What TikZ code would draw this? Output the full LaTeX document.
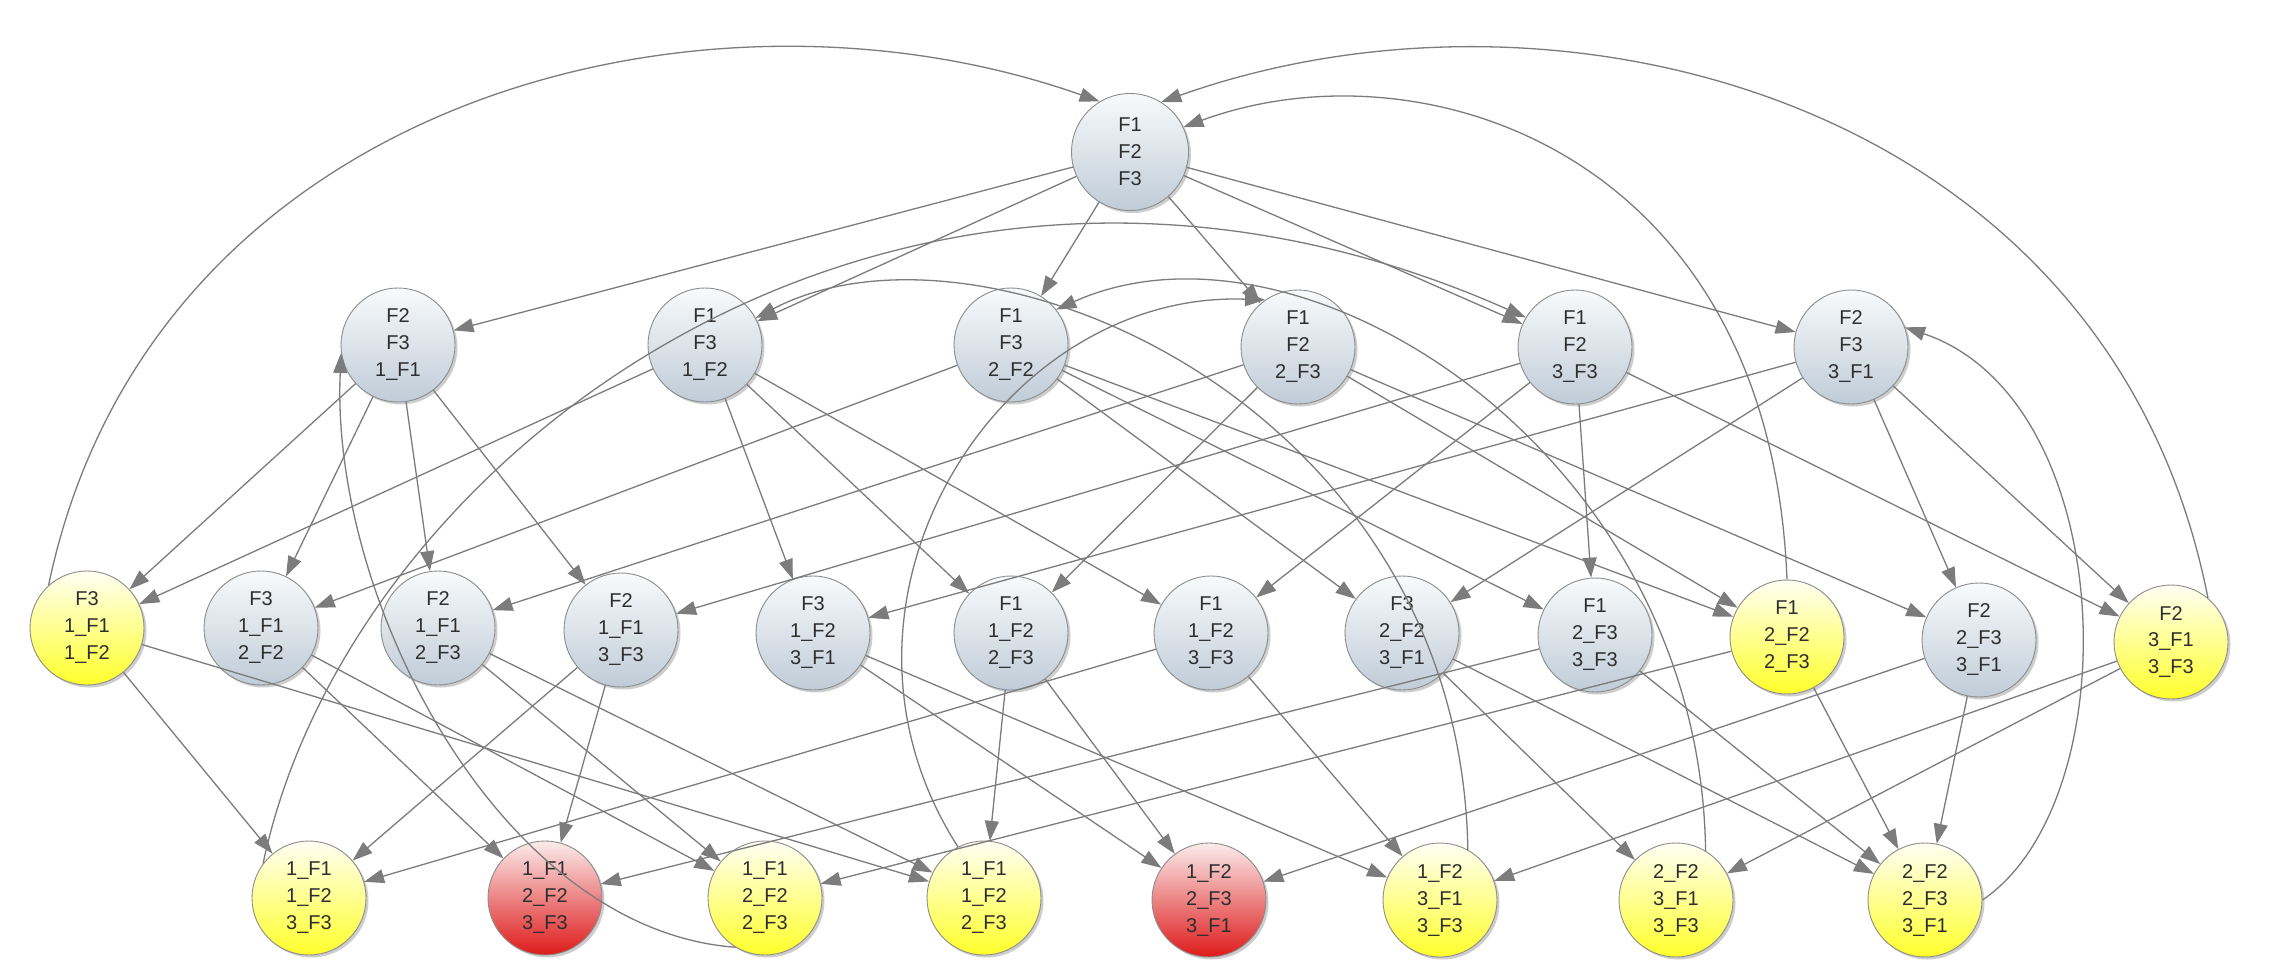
\documentclass[tikz,border=0pt]{standalone}
\usepackage{fontspec}
\setmainfont{Liberation Sans}
\usetikzlibrary{arrows.meta,shadows}
\definecolor{edgec}{HTML}{7C7C7C}
\definecolor{bluetop}{HTML}{F8FAFB}
\definecolor{bluebot}{HTML}{C0CCD8}
\definecolor{yeltop}{HTML}{FFFFF4}
\definecolor{yelbot}{HTML}{FFFF2A}
\definecolor{redtop}{HTML}{FBECEC}
\definecolor{redmid}{HTML}{EB7474}
\definecolor{redbot}{HTML}{DE1A1A}
\definecolor{txt}{HTML}{2E2E2E}
\begin{document}
\begin{tikzpicture}[x=1pt,y=-1pt,
  st/.style={circle, draw=black!45, line width=0.9pt, minimum size=114pt, inner sep=0pt,
    align=center, font=\fontsize{20}{27}\selectfont, text=txt,
    drop shadow={shadow xshift=2.5pt, shadow yshift=-2.5pt, opacity=0.28, fill=black!70}},
  bn/.style={st, top color=bluetop, bottom color=bluebot},
  yn/.style={st, top color=yeltop, bottom color=yelbot},
  rn/.style={st, top color=redtop, middle color=redmid, bottom color=redbot},
  ed/.style={draw=edgec, line width=1.3pt, -{Triangle[length=20pt,width=14pt]}},
]
\useasboundingbox[fill=white] (0,0) rectangle (2270,976);

% nodes
\node[bn, minimum size=117pt] (T) at (1130,152) {F1\\F2\\F3};

\node[bn] (A1) at (398,345) {F2\\F3\\1\_F1};
\node[bn] (A2) at (705,345) {F1\\F3\\1\_F2};
\node[bn] (A3) at (1011,345) {F1\\F3\\2\_F2};
\node[bn] (A4) at (1298,347) {F1\\F2\\2\_F3};
\node[bn] (A5) at (1575,347) {F1\\F2\\3\_F3};
\node[bn] (A6) at (1851,347) {F2\\F3\\3\_F1};

\node[yn] (B1) at (87,628) {F3\\1\_F1\\1\_F2};
\node[bn] (B2) at (261,628) {F3\\1\_F1\\2\_F2};
\node[bn] (B3) at (438,628) {F2\\1\_F1\\2\_F3};
\node[bn] (B4) at (621,630) {F2\\1\_F1\\3\_F3};
\node[bn] (B5) at (813,633) {F3\\1\_F2\\3\_F1};
\node[bn] (B6) at (1011,633) {F1\\1\_F2\\2\_F3};
\node[bn] (B7) at (1211,633) {F1\\1\_F2\\3\_F3};
\node[bn] (B8) at (1402,633) {F3\\2\_F2\\3\_F1};
\node[bn] (B9) at (1595,635) {F1\\2\_F3\\3\_F3};
\node[yn] (B10) at (1787,637) {F1\\2\_F2\\2\_F3};
\node[bn] (B11) at (1979,640) {F2\\2\_F3\\3\_F1};
\node[yn] (B12) at (2171,642) {F2\\3\_F1\\3\_F3};

\node[yn] (C1) at (309,898) {1\_F1\\1\_F2\\3\_F3};
\node[rn] (C2) at (545,898) {1\_F1\\2\_F2\\3\_F3};
\node[yn] (C3) at (765,898) {1\_F1\\2\_F2\\2\_F3};
\node[yn] (C4) at (984,898) {1\_F1\\1\_F2\\2\_F3};
\node[rn] (C5) at (1209,900) {1\_F2\\2\_F3\\3\_F1};
\node[yn] (C6) at (1440,900) {1\_F2\\3\_F1\\3\_F3};
\node[yn] (C7) at (1676,900) {2\_F2\\3\_F1\\3\_F3};
\node[yn] (C8) at (1925,900) {2\_F2\\2\_F3\\3\_F1};

% forward edges
\foreach \a in {A1,A2,A3,A4,A5,A6} \draw[ed] (T) -- (\a);
\foreach \a/\b in {A1/B1,A1/B2,A1/B3,A1/B4,
                   A2/B1,A2/B5,A2/B6,A2/B7,
                   A3/B2,A3/B8,A3/B9,A3/B10,
                   A4/B3,A4/B6,A4/B10,A4/B11,
                   A5/B4,A5/B7,A5/B9,A5/B12,
                   A6/B5,A6/B8,A6/B11,A6/B12} \draw[ed] (\a) -- (\b);
\foreach \a/\b in {B1/C1,B1/C4,B2/C2,B2/C3,B3/C3,B3/C4,B4/C1,B4/C2,
                   B5/C5,B5/C6,B6/C4,B6/C5,B7/C1,B7/C6,B8/C7,B8/C8,
                   B9/C2,B9/C8,B10/C3,B10/C8,B11/C5,B11/C8,B12/C6,B12/C7}
  \draw[ed] (\a) -- (\b);

% back edges
\draw[ed] (B1.132) .. controls (150,100) and (700,-40) .. (T.121);
\draw[ed] (B12.50) .. controls (2110,100) and (1560,-40) .. (T.58);
\draw[ed] (B10.90) .. controls (1770,150) and (1420,40) .. (T.25);
\draw[ed] (C8.0) .. controls (2130,800) and (2120,400) .. (A6.20);
\draw[ed] (C1.143) .. controls (350,450) and (900,40) .. (A5.149);
\draw[ed] (C3.239) .. controls (500,930) and (330,600) .. (A1.188);
\draw[ed] (C4.117) .. controls (800,600) and (1000,290) .. (A4.125);
\draw[ed] (C6.61) .. controls (1460,400) and (980,200) .. (A2.28);
\draw[ed] (C7.59) .. controls (1700,450) and (1300,200) .. (A3.38);
\end{tikzpicture}
\end{document}
